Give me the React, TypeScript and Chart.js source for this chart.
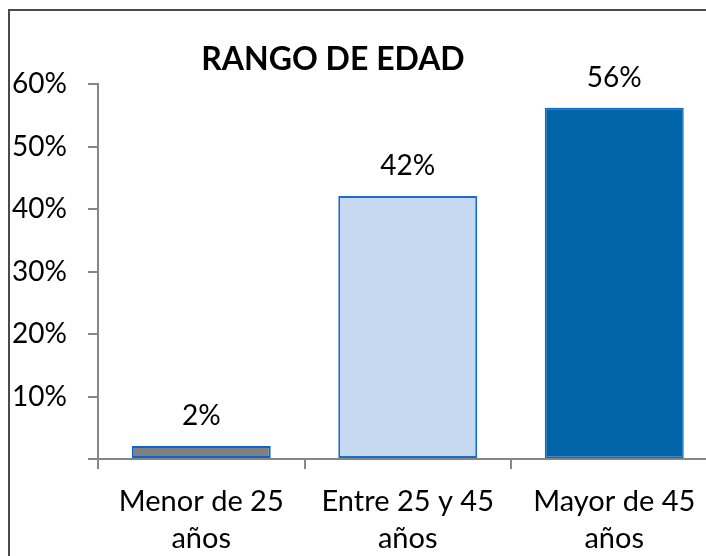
import React, { useEffect, useRef } from "react";
import { Chart, registerables } from "chart.js";

Chart.register(...registerables);

const chartTitle = "RANGO DE EDAD";
const categories: string[][] = [
  ["Menor de 25", "años"],
  ["Entre 25 y 45", "años"],
  ["Mayor de 45", "años"],
];
const values: number[] = [2.1, 42.1, 56.2];
const fillColors: string[] = ["#808080", "#C6D9F1", "#0064A8"];
const borderColors: string[] = ["#0A66CC", "#1A6DCB", "#0A69C4"];
const yTickValues: number[] = [0, 10, 20, 30, 40, 50, 60];

const FONT = "Lato, 'Open Sans', sans-serif";

export default function App() {
  const ref = useRef<HTMLCanvasElement | null>(null);

  useEffect(() => {
    if (!ref.current) return;
    const titlePlugin = {
      id: "excelTitle",
      afterDraw(chart: any) {
        const ctx = chart.ctx;
        ctx.save();
        ctx.font = `bold 32px ${FONT}`;
        ctx.fillStyle = "#000";
        ctx.textAlign = "center";
        ctx.textBaseline = "middle";
        ctx.fillText(chartTitle, 323, 49);
        ctx.restore();
      },
    };
    const labelPlugin = {
      id: "barLabels",
      afterDatasetsDraw(chart: any) {
        const ctx = chart.ctx;
        const meta = chart.getDatasetMeta(0);
        ctx.save();
        ctx.font = `28px ${FONT}`;
        ctx.fillStyle = "#000";
        ctx.textAlign = "center";
        ctx.textBaseline = "middle";
        meta.data.forEach((bar: any, i: number) => {
          ctx.fillText(`${Math.round(values[i])}%`, bar.x, bar.y - 30);
        });
        ctx.restore();
      },
    };
    const chart = new Chart(ref.current, {
      type: "bar",
      data: {
        labels: categories,
        datasets: [
          {
            data: values,
            backgroundColor: fillColors,
            borderColor: borderColors,
            borderWidth: [2, 2, 1.5],
            borderSkipped: false,
            categoryPercentage: 1,
            barPercentage: 0.673,
          },
        ],
      },
      options: {
        responsive: false,
        animation: false,
        devicePixelRatio: 1,
        layout: { padding: { top: 73, left: 0, right: 12.5, bottom: 0 } },
        plugins: {
          legend: { display: false },
          tooltip: { enabled: false },
          title: { display: false },
        },
        scales: {
          x: {
            offset: true,
            grid: {
              display: true,
              offset: true,
              drawOnChartArea: false,
              drawTicks: true,
              tickLength: 10,
              color: "#868686",
              lineWidth: 2,
            },
            border: { display: true, color: "#868686", width: 2 },
            ticks: {
              color: "#000",
              padding: 14,
              maxRotation: 0,
              autoSkip: false,
              font: { family: FONT, size: 29, lineHeight: 1.28 },
            },
            afterFit(scale: any) {
              scale.height = 152;
            },
          },
          y: {
            min: 0,
            max: 60,
            afterBuildTicks(scale: any) {
              scale.ticks = yTickValues.map((v) => ({ value: v }));
            },
            grid: {
              display: true,
              drawOnChartArea: false,
              drawTicks: true,
              tickLength: 10,
              color: "#868686",
              lineWidth: 2,
            },
            border: { display: true, color: "#868686", width: 2 },
            ticks: {
              color: "#000",
              padding: 21,
              font: { family: FONT, size: 28 },
              callback: (v: any) => (Number(v) === 0 ? "" : `${v}%`),
            },
            afterFit(scale: any) {
              scale.width = 88;
            },
          },
        },
      },
      plugins: [titlePlugin, labelPlugin],
    });
    return () => chart.destroy();
  }, []);

  return (
    <div
      style={{
        position: "fixed",
        left: 0,
        top: 0,
        width: 706,
        height: 556,
        overflow: "hidden",
        background: "#fff",
      }}
    >
      <div
        style={{
          position: "absolute",
          left: 8,
          top: 9,
          borderLeft: "2px solid #4a4a4a",
          borderTop: "2px solid #4a4a4a",
          background: "#fff",
        }}
      >
        <canvas ref={ref} width={720} height={600} style={{ display: "block" }} />
      </div>
    </div>
  );
}
